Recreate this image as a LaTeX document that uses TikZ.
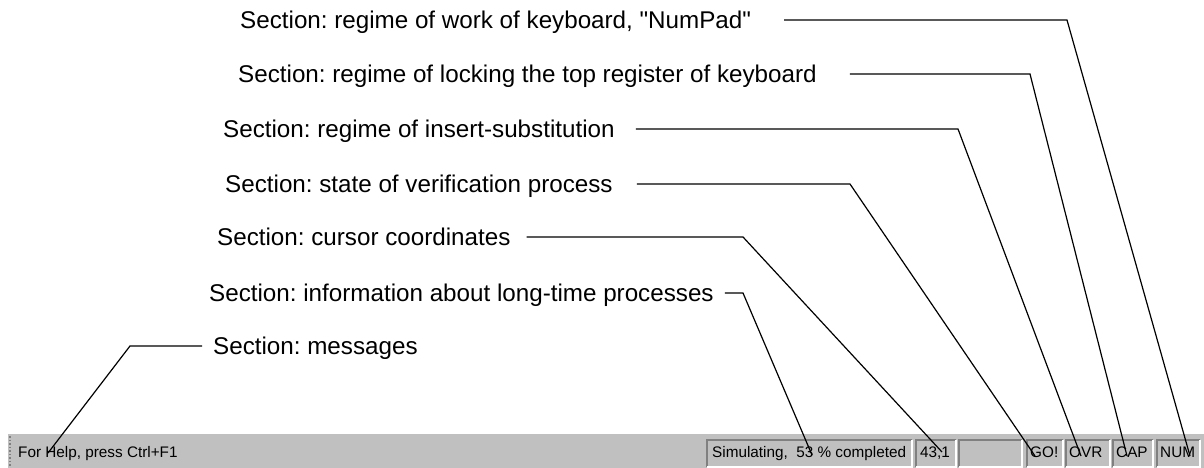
\documentclass[tikz,border=0pt]{standalone}
\usepackage{fontspec}
\setmainfont{Liberation Sans}
\frenchspacing
\definecolor{barra}{HTML}{C0C0C0}
\definecolor{ombra}{HTML}{808080}
\tikzset{
  etichetta/.style={anchor=west, inner sep=0pt, text height=22.7pt, text depth=5.3pt,
    font=\fontsize{24.2}{29}\selectfont},
  voce/.style={anchor=base west, inner sep=0pt, font=\fontsize{15.3}{18}\selectfont},
  guida/.style={line width=1.2pt, line join=miter}
}
\begin{document}
\begin{tikzpicture}[x=1pt, y=-1pt]
    \useasboundingbox (0,0) rectangle (1204,468);

    %%%%%%%%%% Barra di stato %%%%%%%%%%
    \fill[barra] (8,434) rectangle (1204,468);
    \draw[ombra, dotted, line width=1.5pt] (10,436) -- (10,468);
    \foreach \a/\b in {707/912, 916/956, 959/1022, 1027/1063, 1066/1110, 1113/1153, 1157/1200}{
        \draw[ombra, line width=1.2pt] (\a,467) |- (\b,440);
        \draw[white, line width=1.2pt] (\a,467) -| (\b,440);
    }

    \node[voce] (stmsg)  at (18,457)   {For Help, press Ctrl+F1};
    \node[voce] (stproc) at (712,457)  {Simulating,\ \ 53 \% completed};
    \node[voce] (stpos)  at (920,457)  {43,1};
    \node[voce] (stgo)   at (1030,457) {GO!};
    \node[voce] (stovr)  at (1069,457) {OVR};
    \node[voce] (stcap)  at (1116,457) {CAP};
    \node[voce] (stnum)  at (1160,457) {NUM};

    %%%%%%%%%% Etichette %%%%%%%%%%
    \node[etichetta] (lblnum)  at (240,20)  {Section: regime of work of keyboard, \textquotedbl NumPad\textquotedbl};
    \node[etichetta] (lblcap)  at (238,74)  {Section: regime of locking the top register of keyboard};
    \node[etichetta] (lblovr)  at (223,129) {Section: regime of insert-substitution};
    \node[etichetta] (lblgo)   at (225,184) {Section: state of verification process};
    \node[etichetta] (lblpos)  at (217,237) {Section: cursor coordinates};
    \node[etichetta] (lblproc) at (209,293) {Section: information about long-time processes};
    \node[etichetta] (lblmsg)  at (213,346) {Section: messages};

    %%%%%%%%%% Linee %%%%%%%%%%
    \coordinate (knum)  at (1067,20);  \coordinate (tnum)  at (1190,456);
    \coordinate (kcap)  at (1030,74);  \coordinate (tcap)  at (1127,456);
    \coordinate (kovr)  at (958,129);  \coordinate (tovr)  at (1081,456);
    \coordinate (kgo)   at (850,184);  \coordinate (tgo)   at (1035,456);
    \coordinate (kpos)  at (743,237);  \coordinate (tpos)  at (942,452);
    \coordinate (kproc) at (743,293);  \coordinate (tproc) at (812,455);
    \coordinate (kmsg)  at (130,346);  \coordinate (tmsg)  at (48,453);

    \draw[guida] ([xshift=33pt]lblnum.east)  -- (knum)  -- (tnum);
    \draw[guida] ([xshift=33pt]lblcap.east)  -- (kcap)  -- (tcap);
    \draw[guida] ([xshift=21pt]lblovr.east)  -- (kovr)  -- (tovr);
    \draw[guida] ([xshift=24pt]lblgo.east)   -- (kgo)   -- (tgo);
    \draw[guida] ([xshift=16pt]lblpos.east)  -- (kpos)  -- (tpos);
    \draw[guida] ([xshift=11pt]lblproc.east) -- (kproc) -- (tproc);
    \draw[guida] ([xshift=-11pt]lblmsg.west) -- (kmsg)  -- (tmsg);
\end{tikzpicture}
\end{document}
